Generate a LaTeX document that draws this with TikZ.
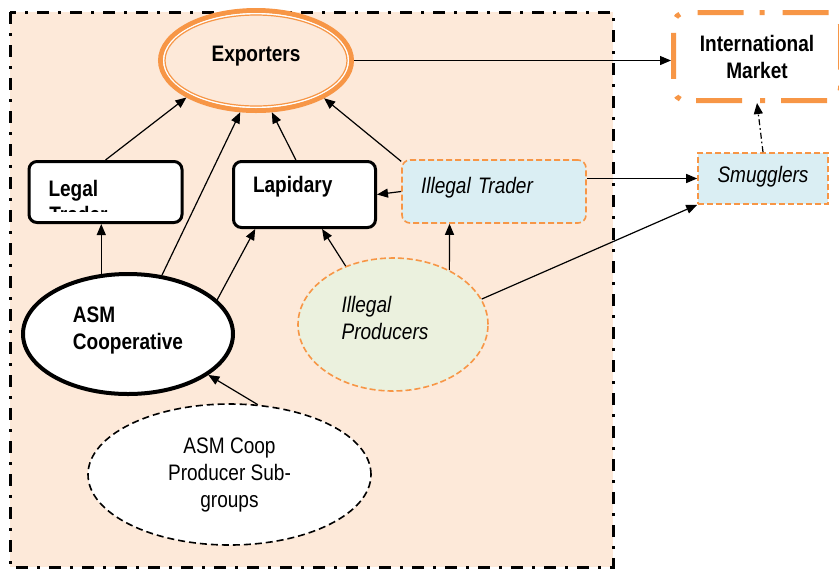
\documentclass[tikz,border=0pt]{standalone}
\usepackage{fontspec}
\setmainfont{Liberation Sans}[FakeStretch=0.85]
\usetikzlibrary{shapes.geometric,arrows.meta}

\definecolor{peach}{HTML}{FDE9D9}
\definecolor{mktorange}{HTML}{F79646}
\definecolor{traderblue}{HTML}{DAEEF3}
\definecolor{producergreen}{HTML}{EBF1DE}

\begin{document}
\fontsize{11.2}{13.5}\selectfont
\begin{tikzpicture}[x=0.5pt, y=-0.5pt, >={Triangle[length=5.5pt,width=4.5pt]}]
        \tikzstyle{solidbox} = [draw, line width=1.5pt, rounded corners=4pt, fill=white, align=left, inner xsep=9.75pt, inner ysep=0pt, font=\bfseries]
        \tikzstyle{illegalbox} = [draw=mktorange, line width=0.8pt, dash pattern=on 3pt off 1.5pt, fill=traderblue, inner sep=0pt, font=\itshape]
        \tikzstyle{flow} = [->, line width=0.6pt]
        \useasboundingbox (0,0) rectangle (839,569);
        % country boundary
        \path[draw, line width=1.5pt, dash pattern=on 6pt off 4.5pt on 1.5pt off 4.5pt, fill=peach] (10,12) rectangle (613,567);
        \node[ellipse, draw=mktorange, line width=2.5pt, fill=peach, minimum width=95.5pt, minimum height=50pt, inner sep=0pt, font=\bfseries, text height=8pt, text depth=7.5pt] (exp) at (256,60.5) {Exporters};
        \draw[white, line width=0.7pt] (exp.center) ellipse [x radius=46.15pt, y radius=23.4pt];
        \draw[mktorange, line width=0.6pt] (exp.center) ellipse [x radius=45.5pt, y radius=22.75pt];
        \node[solidbox, text width=57pt, minimum height=30.5pt, text height=8pt, text depth=4pt] (legal) at (105.5,192) {Legal};
        \begin{scope}
            \clip (legal.north west) rectangle (182,211);
            \node[anchor=base west, inner sep=0pt, font=\bfseries] (trader) at (49,222) {Trader};
        \end{scope}
        \node[solidbox, text width=51.5pt, minimum height=33pt, text height=8pt, text depth=10.5pt] (lap) at (304.5,194.5) {Lapidary};
        \node[illegalbox, rounded corners=4pt, align=left, inner xsep=9.5pt, text width=73pt, minimum height=31.5pt, text height=8pt, text depth=6.5pt] (itr) at (494,191.5) {Illegal Trader};
        \node[illegalbox, minimum width=65pt, minimum height=25.5pt, text height=8pt, text depth=4pt] (smug) at (763,178.5) {Smugglers};
        \node[draw=mktorange, line width=2.5pt, dash pattern=on 23pt off 9pt on 2.5pt off 8pt, rounded corners=6pt, fill=white, minimum width=83.5pt, minimum height=44pt, inner sep=0pt, align=center, font=\bfseries] (intl) at (757,56.5) {International\\Market};
        \node[ellipse, draw, line width=2pt, fill=white, minimum width=105pt, minimum height=60pt, inner sep=0pt, align=left, font=\bfseries] (asm) at (128,334) {ASM\\Cooperative\rule[-6pt]{0pt}{0pt}};
        \node[ellipse, draw=mktorange, line width=0.8pt, dash pattern=on 3pt off 1.5pt, fill=producergreen, minimum width=95pt, minimum height=66.5pt, inner sep=0pt, align=left, font=\itshape] (ipr) at (393,324.5) {Illegal\\Producers\rule[-7pt]{8pt}{0pt}};
        \node[ellipse, draw, line width=0.8pt, dash pattern=on 3.5pt off 2pt, fill=white, minimum width=141.5pt, minimum height=70.5pt, inner sep=0pt, align=center] (sub) at (229.5,474.5) {ASM Coop\\Producer Sub-\\groups};
        \foreach \from/\to in {legal.north/exp.208, asm.60/exp.253, lap.104/exp.287, itr.162/exp.331, itr.west/lap.east, asm.21/lap.215, ipr.129/lap.297, ipr.44/itr.216, ipr.16/smug.south west, sub.68/asm.333}
            \draw[flow] (\from) -- (\to);
        \draw[flow] (asm.114) -- (asm.114 |- legal.south);
        \draw[flow] (exp.east) -- (exp.east -| intl.west);
        \draw[flow] (itr.east |- smug.west) -- (smug.west);
        \draw[flow, dash pattern=on 3pt off 1.5pt on 0.8pt off 1.5pt] (smug.north) -- (intl.south);
    \end{tikzpicture}
\end{document}
